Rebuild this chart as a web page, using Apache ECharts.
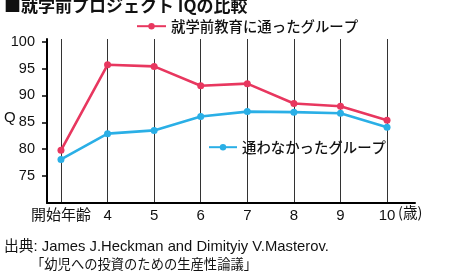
<!DOCTYPE html>
<html><head><meta charset="utf-8">
<script src="https://cdn.jsdelivr.net/npm/echarts@6/dist/echarts.min.js"></script>
<style>html,body{margin:0;padding:0;background:#fff}#c{width:455px;height:278px}</style>
</head><body><div id="c"></div>
<script>
const ages = [3, 4, 5, 6, 7, 8, 9, 10];
const xLabels = ['開始年齢', '4', '5', '6', '7', '8', '9', '10'];
const preschool = [79.8, 95.7, 95.4, 91.8, 92.2, 88.5, 88.0, 85.4];
const noPreschool = [78.1, 82.9, 83.5, 86.1, 87.0, 86.9, 86.7, 84.1];
const yTicks = [75, 80, 85, 90, 95, 100];
const seriesNames = ['就学前教育に通ったグループ', '通わなかったグループ'];

const FONT = '"Liberation Sans", "Noto Sans CJK JP", sans-serif';
const JFONT = '"Noto Sans CJK JP", "Liberation Sans", sans-serif';
const chart = echarts.init(document.getElementById('c'), null, {renderer: 'canvas'});
chart.setOption({
  animation: false,
  backgroundColor: '#fff',
  grid: {left: 47, right: 40, top: 39, bottom: 75},
  xAxis: {
    type: 'value', min: 2.7, max: 10.6,
    axisLine: {lineStyle: {color: '#000', width: 2}},
    axisTick: {show: false, customValues: ages},
    splitLine: {show: true, lineStyle: {color: '#333', width: 1}},
    axisLabel: {
      customValues: ages, margin: 5,
      fontFamily: FONT, fontSize: 15, color: '#111',
      formatter: v => xLabels[ages.indexOf(Math.round(v))]
    }
  },
  yAxis: {
    type: 'value', min: 70, max: 100.5,
    axisLine: {show: true, lineStyle: {color: '#000', width: 2}},
    axisTick: {show: true, length: 5, customValues: yTicks, lineStyle: {color: '#000', width: 1.5}},
    splitLine: {show: false},
    axisLabel: {customValues: yTicks, margin: 12, fontFamily: FONT, fontSize: 14.5, color: '#111'}
  },
  legend: [
    {data: [seriesNames[0]], left: 136, top: 19, padding: 0, itemWidth: 29, itemHeight: 8, itemGap: 0,
     textStyle: {fontFamily: JFONT, fontSize: 14.4, color: '#111', fontWeight: 500}},
    {data: [seriesNames[1]], left: 208, top: 140, padding: 0, itemWidth: 28, itemHeight: 8, itemGap: 0,
     textStyle: {fontFamily: JFONT, fontSize: 14.4, color: '#111', fontWeight: 500}}
  ],
  series: [
    {name: seriesNames[0], type: 'line', data: ages.map((a, i) => [a, preschool[i]]),
     color: '#e8375f', lineStyle: {width: 2.6}, symbol: 'circle', symbolSize: 7, showSymbol: true},
    {name: seriesNames[1], type: 'line', data: ages.map((a, i) => [a, noPreschool[i]]),
     color: '#2aafe6', lineStyle: {width: 2.6}, symbol: 'circle', symbolSize: 7, showSymbol: true}
  ],
  graphic: [
    {type: 'text', left: 4, top: -3, style: {text: '■就学前プロジェクト IQの比較', fontFamily: JFONT, fontSize: 17, fontWeight: 'bold', fill: '#111'}},
    {type: 'text', left: 4, top: 110, style: {text: 'Q', fontFamily: FONT, fontSize: 15, fill: '#111'}},
    {type: 'text', left: 398, top: 205, style: {text: '(歳)', fontFamily: JFONT, fontSize: 14.5, fill: '#111'}},
    {type: 'text', left: 4, top: 240, style: {text: '出典: James J.Heckman and Dimityiy V.Masterov.', fontFamily: FONT, fontSize: 14.8, fill: '#111'}},
    {type: 'text', left: 31, top: 257, style: {text: '「幼児への投資のための生産性論議」', fontFamily: JFONT, fontSize: 13.3, fill: '#111'}}
  ]
});
</script></body></html>
